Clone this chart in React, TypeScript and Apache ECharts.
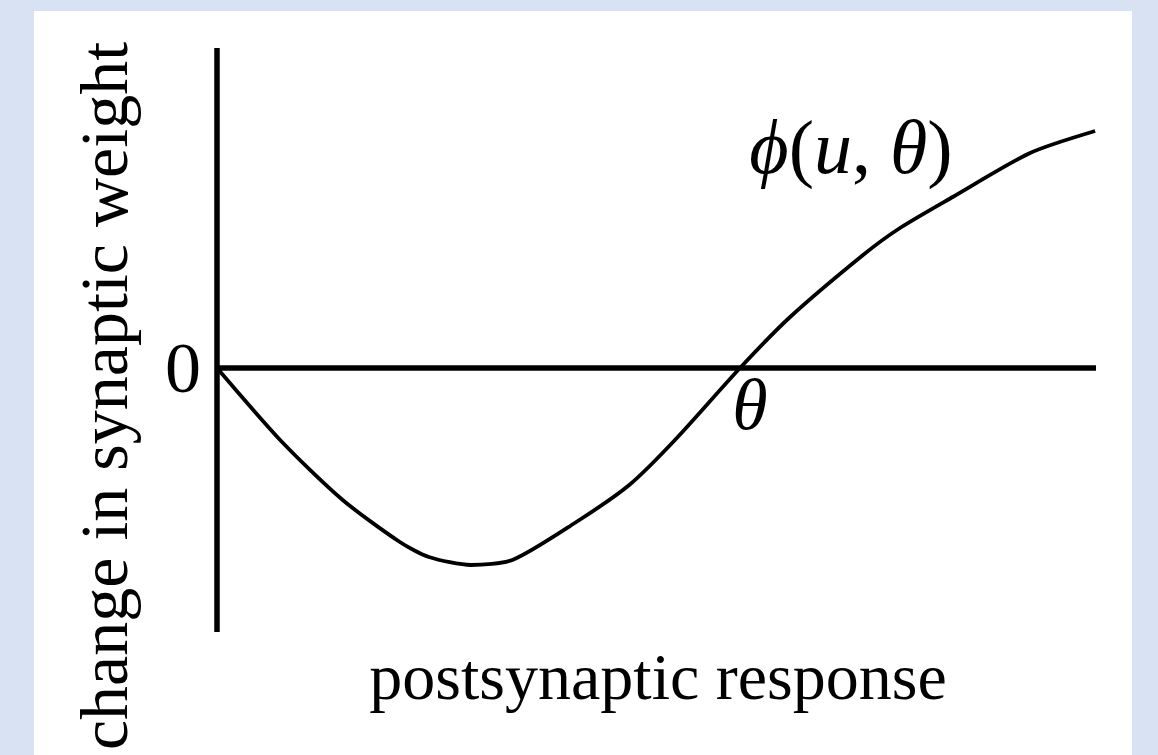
import React, { useEffect, useRef } from "react";
import * as echarts from "echarts";

// Curve phi(u, theta): postsynaptic response (x) vs change in synaptic weight (y)
const responseValues = [0, 0.74, 1.43, 2.08, 2.41, 2.89, 3.36, 4.07, 4.69, 5.21, 5.95, 6.52, 7.35, 7.77, 8.37, 9.25, 9.99];
const weightChangeValues = [0, -0.74, -1.32, -1.74, -1.89, -1.97, -1.92, -1.55, -1.17, -0.72, 0, 0.51, 1.13, 1.4, 1.71, 2.15, 2.37];
const yTickLabels = [0];
const xAxisTitle = "postsynaptic response";
const yAxisTitle = "change in synaptic weight";
const curveLabel = ["ϕ", "(", "u", ", ", "θ", ")"];
const thresholdLabel = "θ";

const SERIF = "'Liberation Serif', 'Times New Roman', 'DejaVu Serif', serif";

export default function App() {
  const ref = useRef<HTMLDivElement>(null);
  useEffect(() => {
    if (!ref.current) return;
    const chart = echarts.init(ref.current, undefined, { renderer: "svg" });
    const data = responseValues.map((x, i) => [x, weightChangeValues[i]]);
    chart.setOption({
      animation: false,
      backgroundColor: "#d8e2f3",
      grid: { left: 217, right: 62, top: 48, bottom: 123 },
      xAxis: {
        type: "value",
        min: 0,
        max: 10,
        axisLine: { show: true, onZero: true, lineStyle: { color: "#000", width: 5.5, cap: "butt" } },
        axisTick: { show: false },
        axisLabel: { show: false },
        splitLine: { show: false },
      },
      yAxis: {
        type: "value",
        min: -2.64,
        max: 3.2,
        axisLine: { show: true, lineStyle: { color: "#000", width: 5.5, cap: "butt" } },
        axisTick: { show: false },
        axisLabel: {
          show: true,
          customValues: yTickLabels,
          formatter: (v: number) => String(Math.round(v)),
          color: "#000",
          fontFamily: SERIF,
          fontSize: 72,
          margin: 16,
        },
        splitLine: { show: false },
      },
      series: [
        {
          type: "line",
          data,
          showSymbol: false,
          smooth: 0.25,
          lineStyle: { color: "#000", width: 3.8 },
          z: 3,
        },
      ],
      graphic: [
        {
          type: "rect",
          z: -100,
          shape: { x: 34, y: 11, width: 1098, height: 760 },
          style: { fill: "#ffffff" },
        },
        {
          type: "text",
          z: 100,
          x: 658,
          y: 676,
          style: {
            text: xAxisTitle,
            fill: "#000",
            font: `66px ${SERIF}`,
            align: "center",
            verticalAlign: "middle",
          },
        },
        {
          type: "text",
          z: 100,
          x: 104,
          y: 396,
          rotation: Math.PI / 2,
          style: {
            text: yAxisTitle,
            fill: "#000",
            font: `68px ${SERIF}`,
            align: "center",
            verticalAlign: "middle",
          },
        },
        {
          type: "text",
          z: 100,
          x: 750,
          y: 405,
          style: {
            text: thresholdLabel,
            fill: "#000",
            font: `italic 72px ${SERIF}`,
            align: "center",
            verticalAlign: "middle",
          },
        },
        {
          type: "text",
          z: 100,
          x: 851,
          y: 147,
          style: {
            text: `{i|${curveLabel[0]}}{r|${curveLabel[1]}}{i|${curveLabel[2]}}{r|${curveLabel[3]}}{i|${curveLabel[4]}}{r|${curveLabel[5]}}`,
            fill: "#000",
            align: "center",
            verticalAlign: "middle",
            rich: {
              i: { fontFamily: SERIF, fontStyle: "italic", fontSize: 76, fill: "#000" },
              r: { fontFamily: SERIF, fontSize: 76, fill: "#000" },
            },
          },
        },
      ],
    });
    return () => chart.dispose();
  }, []);
  return <div ref={ref} style={{ position: "fixed", left: 0, top: 0, width: 1158, height: 755 }} />;
}
